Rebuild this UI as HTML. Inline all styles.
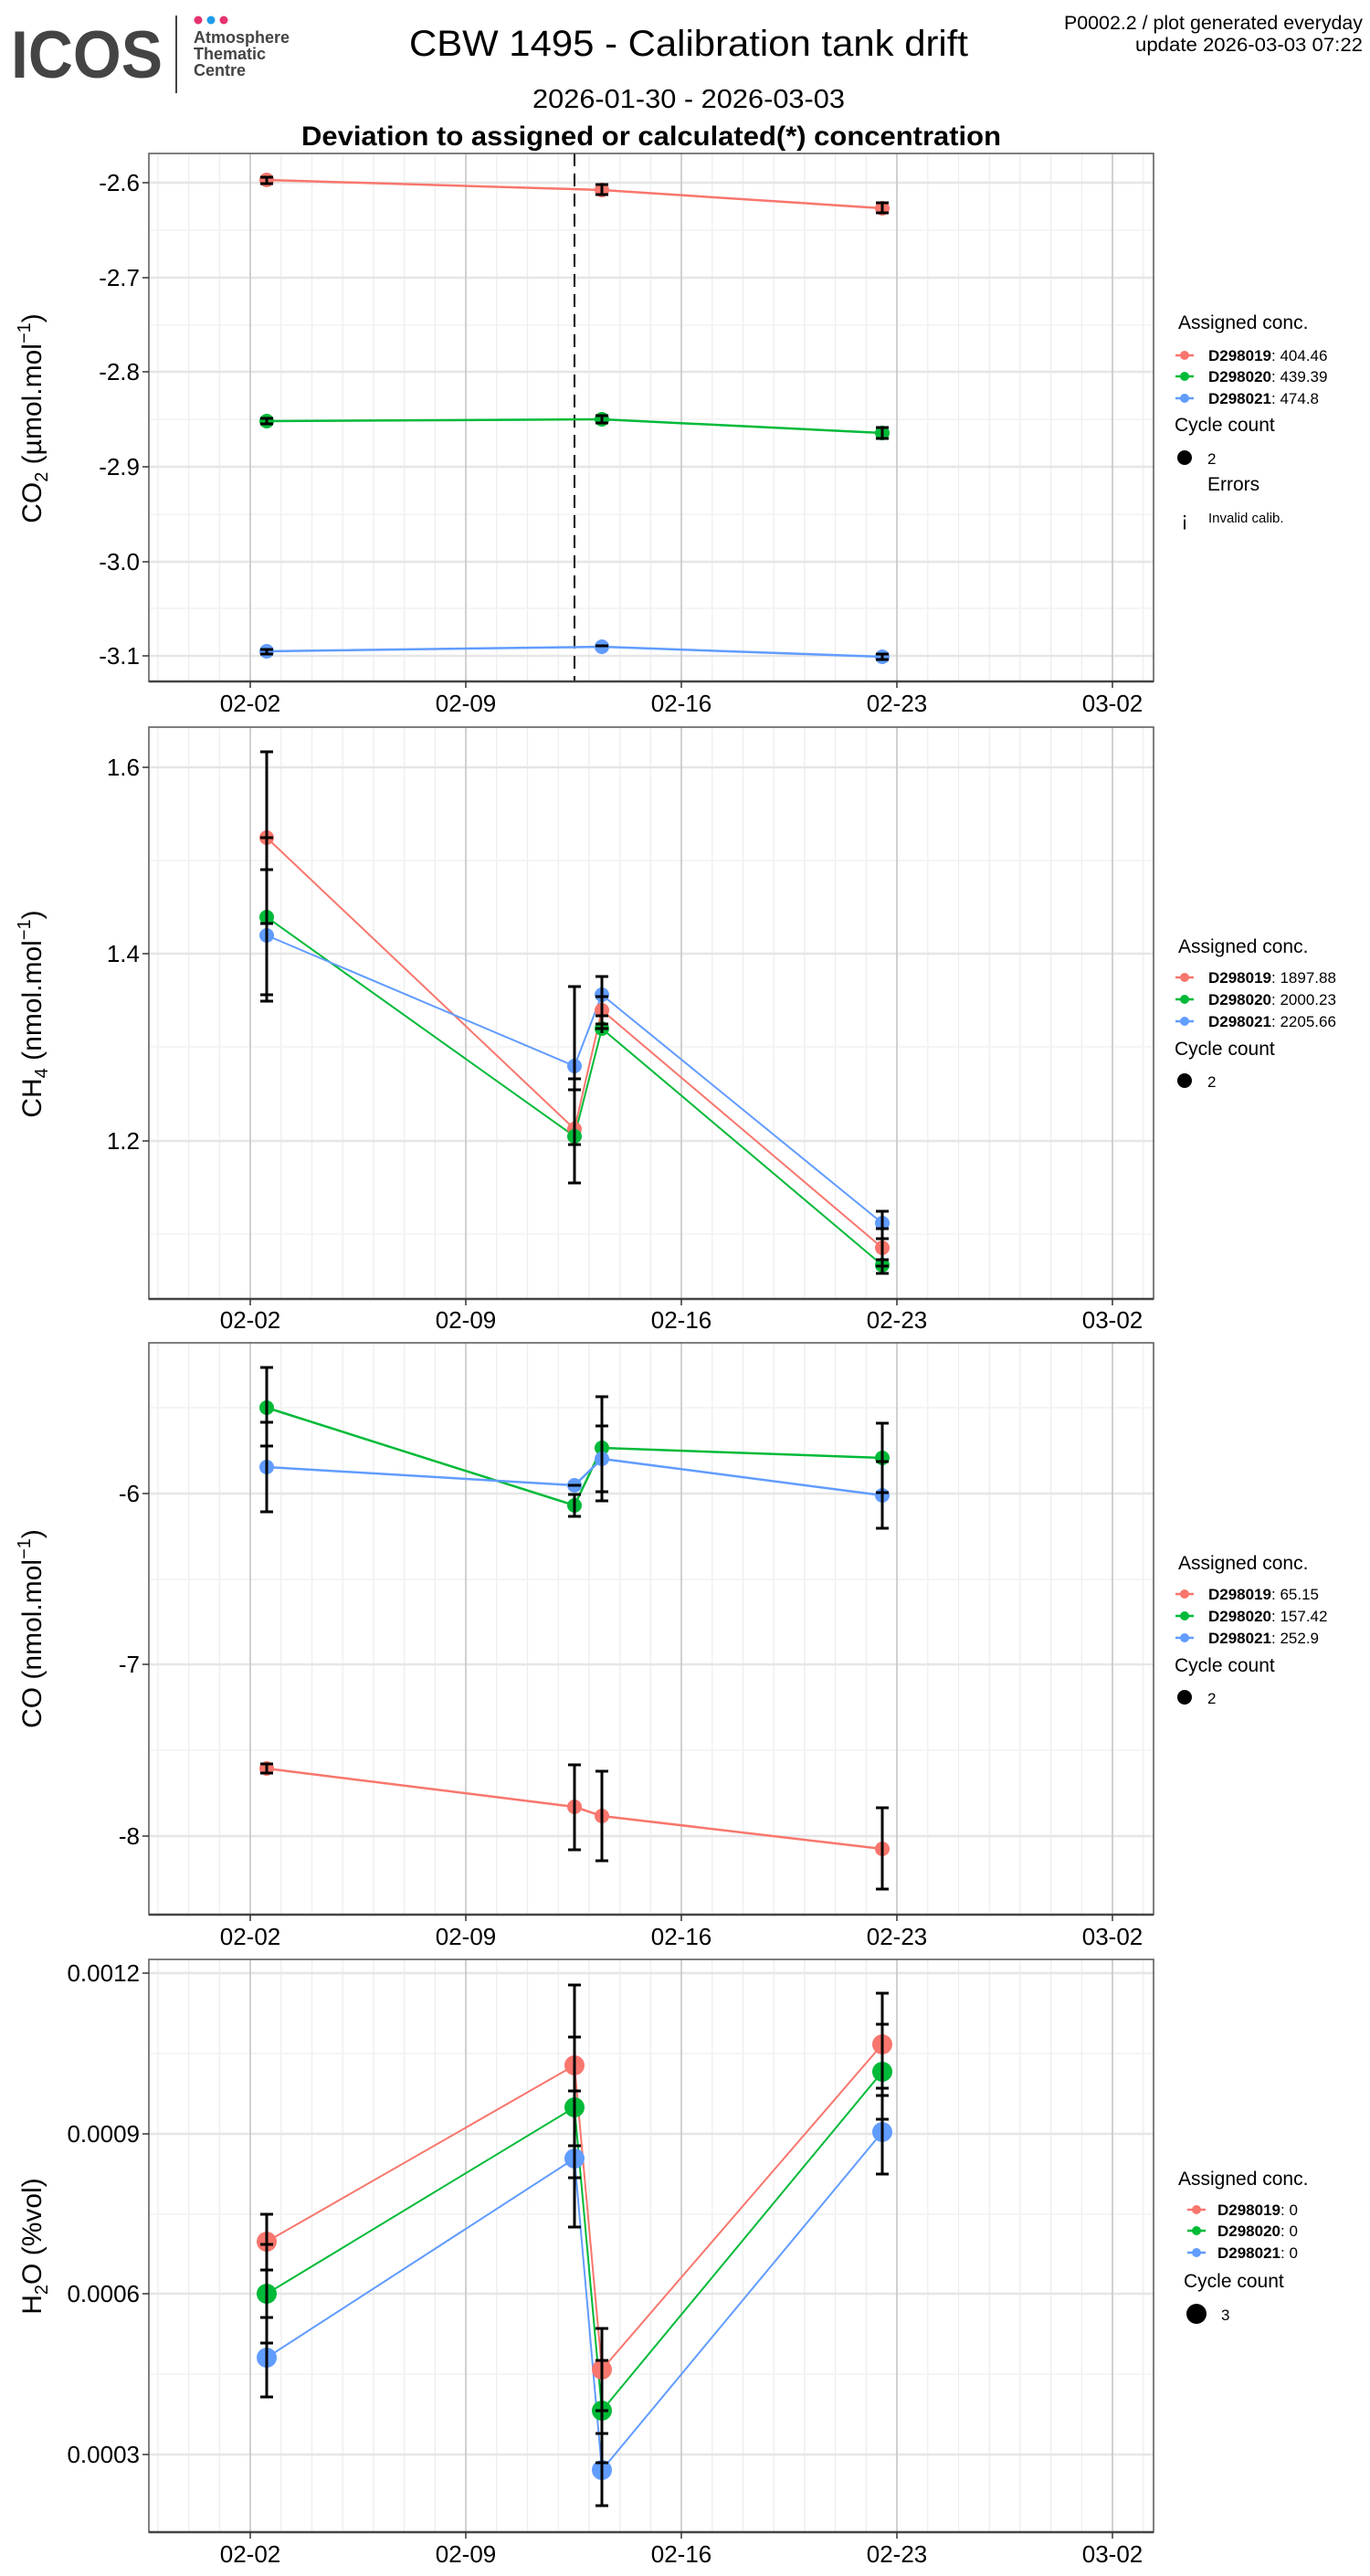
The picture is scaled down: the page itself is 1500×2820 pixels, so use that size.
<!DOCTYPE html>
<html><head><meta charset="utf-8"><style>
html,body{margin:0;padding:0;background:#fff;}
svg{display:block;}
text{font-family:"Liberation Sans",Arial,sans-serif;}
</style></head><body>
<svg width="1500" height="2820" viewBox="0 0 1500 2820" xmlns="http://www.w3.org/2000/svg">
<defs>
<pattern id="minx" patternUnits="userSpaceOnUse" x="273.5" y="0" width="33.714" height="10">
<rect x="0" y="0" width="1.2" height="10" fill="#ececec"/>
</pattern>
</defs>
<rect width="1500" height="2820" fill="#fff"/>

<!-- Logo -->
<text x="12" y="85" font-size="73" font-weight="bold" fill="#444" textLength="166" lengthAdjust="spacingAndGlyphs">ICOS</text>
<line x1="193" y1="17" x2="193" y2="102" stroke="#444" stroke-width="2"/>
<circle cx="217" cy="22" r="4.5" fill="#e6336f"/>
<circle cx="231" cy="22" r="4.5" fill="#1e9be9"/>
<circle cx="245" cy="22" r="4.5" fill="#e6336f"/>
<text x="212" y="47" font-size="18" font-weight="bold" fill="#444">Atmosphere</text>
<text x="212" y="65" font-size="18" font-weight="bold" fill="#444">Thematic</text>
<text x="212" y="83" font-size="18" font-weight="bold" fill="#444">Centre</text>

<!-- Titles -->
<text x="754" y="61" font-size="40" text-anchor="middle" textLength="612" lengthAdjust="spacingAndGlyphs">CBW 1495 - Calibration tank drift</text>
<text x="754" y="118" font-size="29" text-anchor="middle" textLength="342" lengthAdjust="spacingAndGlyphs">2026-01-30 - 2026-03-03</text>
<text x="713" y="159" font-size="30" font-weight="bold" text-anchor="middle" textLength="766" lengthAdjust="spacingAndGlyphs">Deviation to assigned or calculated(*) concentration</text>
<text x="1492" y="32" font-size="21" text-anchor="end" textLength="327" lengthAdjust="spacingAndGlyphs">P0002.2 / plot generated everyday</text>
<text x="1492" y="56" font-size="21" text-anchor="end" textLength="249" lengthAdjust="spacingAndGlyphs">update  2026-03-03 07:22</text>

<!-- ================= PANEL 1 CO2 ================= -->
<g>
<rect x="163" y="168" width="1100" height="578" fill="url(#minx)"/>
<g stroke="#f2f2f2" stroke-width="1.5">
<line x1="163" y1="252" x2="1263" y2="252"/><line x1="163" y1="356" x2="1263" y2="356"/><line x1="163" y1="459" x2="1263" y2="459"/><line x1="163" y1="563" x2="1263" y2="563"/><line x1="163" y1="666" x2="1263" y2="666"/>
</g>
<g stroke="#e6e6e6" stroke-width="2.5">
<line x1="163" y1="200" x2="1263" y2="200"/><line x1="163" y1="304" x2="1263" y2="304"/><line x1="163" y1="407" x2="1263" y2="407"/><line x1="163" y1="511" x2="1263" y2="511"/><line x1="163" y1="615" x2="1263" y2="615"/><line x1="163" y1="718" x2="1263" y2="718"/>
</g>
<g stroke="#cccccc" stroke-width="1.8">
<line x1="274" y1="168" x2="274" y2="746"/><line x1="510" y1="168" x2="510" y2="746"/><line x1="746" y1="168" x2="746" y2="746"/><line x1="982" y1="168" x2="982" y2="746"/><line x1="1218" y1="168" x2="1218" y2="746"/>
</g>
<line x1="629" y1="168" x2="629" y2="746" stroke="#000" stroke-width="2" stroke-dasharray="14,8"/>
<polyline points="292,197 659,208 966,228" fill="none" stroke="#F8766D" stroke-width="2.5"/>
<polyline points="292,461 659,459 966,474" fill="none" stroke="#00BA38" stroke-width="2.5"/>
<polyline points="292,713 659,708 966,719" fill="none" stroke="#619CFF" stroke-width="2.5"/>
<g fill="#F8766D"><circle cx="292" cy="197" r="8"/><circle cx="659" cy="208" r="8"/><circle cx="966" cy="228" r="8"/></g>
<g fill="#00BA38"><circle cx="292" cy="461" r="8"/><circle cx="659" cy="459" r="8"/><circle cx="966" cy="474" r="8"/></g>
<g fill="#619CFF"><circle cx="292" cy="713" r="8"/><circle cx="659" cy="708" r="8"/><circle cx="966" cy="719" r="8"/></g>
<g stroke="#000" stroke-width="3" fill="none">
<path d="M292 194V201M285 194H299M285 201H299"/>
<path d="M659 202V213M652 202H666M652 213H666"/>
<path d="M966 222V233M959 222H973M959 233H973"/>
<path d="M292 458V464M285 458H299M285 464H299"/>
<path d="M659 455V463M652 455H666M652 463H666"/>
<path d="M966 468V480M959 468H973M959 480H973"/>
<path d="M292 711V716M285 711H299M285 716H299"/>
<path d="M652 707H666"/>
<path d="M966 716V722M959 716H973M959 722H973"/>
</g>
<rect x="163" y="168" width="1100" height="578" fill="none" stroke="#555" stroke-width="1.5"/>
<line x1="163" y1="746" x2="1263" y2="746" stroke="#444" stroke-width="2.5"/>
<g stroke="#333" stroke-width="1.5">
<line x1="156" y1="200" x2="163" y2="200"/><line x1="156" y1="304" x2="163" y2="304"/><line x1="156" y1="407" x2="163" y2="407"/><line x1="156" y1="511" x2="163" y2="511"/><line x1="156" y1="615" x2="163" y2="615"/><line x1="156" y1="718" x2="163" y2="718"/>
<line x1="274" y1="746" x2="274" y2="753"/><line x1="510" y1="746" x2="510" y2="753"/><line x1="746" y1="746" x2="746" y2="753"/><line x1="982" y1="746" x2="982" y2="753"/><line x1="1218" y1="746" x2="1218" y2="753"/>
</g>
<g font-size="26" text-anchor="end">
<text x="153" y="209">-2.6</text><text x="153" y="313">-2.7</text><text x="153" y="416">-2.8</text><text x="153" y="520">-2.9</text><text x="153" y="624">-3.0</text><text x="153" y="727">-3.1</text>
</g>
<g font-size="26" text-anchor="middle">
<text x="274" y="779">02-02</text><text x="510" y="779">02-09</text><text x="746" y="779">02-16</text><text x="982" y="779">02-23</text><text x="1218" y="779">03-02</text>
</g>
<text transform="translate(45,458) rotate(-90)" font-size="30" text-anchor="middle">CO<tspan font-size="20" dy="7">2</tspan><tspan dy="-7"> (µmol.mol</tspan><tspan font-size="20" dy="-12">−1</tspan><tspan dy="12">)</tspan></text>
<!-- legend -->
<text x="1290" y="360" font-size="21">Assigned conc.</text>
<g stroke-width="2.5"><line x1="1287" y1="389" x2="1307" y2="389" stroke="#F8766D"/><line x1="1287" y1="412" x2="1307" y2="412" stroke="#00BA38"/><line x1="1287" y1="436" x2="1307" y2="436" stroke="#619CFF"/></g>
<circle cx="1297" cy="389" r="5" fill="#F8766D"/><circle cx="1297" cy="412" r="5" fill="#00BA38"/><circle cx="1297" cy="436" r="5" fill="#619CFF"/>
<g font-size="17"><text x="1323" y="395"><tspan font-weight="bold">D298019</tspan>: 404.46</text><text x="1323" y="418"><tspan font-weight="bold">D298020</tspan>: 439.39</text><text x="1323" y="442"><tspan font-weight="bold">D298021</tspan>: 474.8</text></g>
<text x="1286" y="472" font-size="21">Cycle count</text>
<circle cx="1297" cy="501" r="8" fill="#000"/>
<text x="1322" y="508" font-size="17">2</text>
<text x="1322" y="537" font-size="21">Errors</text>
<text x="1297" y="576" font-size="22" text-anchor="middle">¡</text>
<text x="1323" y="572" font-size="15">Invalid calib.</text>
</g>

<!-- ================= PANEL 2 CH4 ================= -->
<g>
<rect x="163" y="796" width="1100" height="626" fill="url(#minx)"/>
<g stroke="#f2f2f2" stroke-width="1.5">
<line x1="163" y1="942" x2="1263" y2="942"/><line x1="163" y1="1146" x2="1263" y2="1146"/><line x1="163" y1="1351" x2="1263" y2="1351"/>
</g>
<g stroke="#e6e6e6" stroke-width="2.5">
<line x1="163" y1="840" x2="1263" y2="840"/><line x1="163" y1="1044" x2="1263" y2="1044"/><line x1="163" y1="1249" x2="1263" y2="1249"/>
</g>
<g stroke="#cccccc" stroke-width="1.8">
<line x1="274" y1="796" x2="274" y2="1422"/><line x1="510" y1="796" x2="510" y2="1422"/><line x1="746" y1="796" x2="746" y2="1422"/><line x1="982" y1="796" x2="982" y2="1422"/><line x1="1218" y1="796" x2="1218" y2="1422"/>
</g>
<polyline points="292,917 629,1236 659,1106 966,1366" fill="none" stroke="#F8766D" stroke-width="2"/>
<polyline points="292,1004 629,1244 659,1126 966,1385" fill="none" stroke="#00BA38" stroke-width="2"/>
<polyline points="292,1024 629,1167 659,1089 966,1339" fill="none" stroke="#619CFF" stroke-width="2"/>
<g fill="#F8766D"><circle cx="292" cy="917" r="8"/><circle cx="629" cy="1236" r="8"/><circle cx="659" cy="1106" r="8"/><circle cx="966" cy="1366" r="8"/></g>
<g fill="#00BA38"><circle cx="292" cy="1004" r="8"/><circle cx="629" cy="1244" r="8"/><circle cx="659" cy="1126" r="8"/><circle cx="966" cy="1385" r="8"/></g>
<g fill="#619CFF"><circle cx="292" cy="1024" r="8"/><circle cx="629" cy="1167" r="8"/><circle cx="659" cy="1089" r="8"/><circle cx="966" cy="1339" r="8"/></g>
<g stroke="#000" stroke-width="3" fill="none">
<path d="M292 823V1096M285 823H299M285 917H299M285 952H299M285 1011H299M285 1089H299M285 1096H299"/>
<path d="M629 1080V1295M622 1080H636M622 1181H636M622 1193H636M622 1253H636M622 1295H636"/>
<path d="M659 1069V1131M652 1069H666M652 1091H666M652 1112H666M652 1121H666M652 1126H666"/>
<path d="M966 1326V1394M959 1326H973M959 1345H973M959 1356H973M959 1379H973M959 1386H973M959 1394H973"/>
</g>
<rect x="163" y="796" width="1100" height="626" fill="none" stroke="#555" stroke-width="1.5"/>
<line x1="163" y1="1422" x2="1263" y2="1422" stroke="#444" stroke-width="2.5"/>
<g stroke="#333" stroke-width="1.5">
<line x1="156" y1="840" x2="163" y2="840"/><line x1="156" y1="1044" x2="163" y2="1044"/><line x1="156" y1="1249" x2="163" y2="1249"/>
<line x1="274" y1="1422" x2="274" y2="1429"/><line x1="510" y1="1422" x2="510" y2="1429"/><line x1="746" y1="1422" x2="746" y2="1429"/><line x1="982" y1="1422" x2="982" y2="1429"/><line x1="1218" y1="1422" x2="1218" y2="1429"/>
</g>
<g font-size="26" text-anchor="end">
<text x="153" y="849">1.6</text><text x="153" y="1053">1.4</text><text x="153" y="1258">1.2</text>
</g>
<g font-size="26" text-anchor="middle">
<text x="274" y="1454">02-02</text><text x="510" y="1454">02-09</text><text x="746" y="1454">02-16</text><text x="982" y="1454">02-23</text><text x="1218" y="1454">03-02</text>
</g>
<text transform="translate(45,1110) rotate(-90)" font-size="30" text-anchor="middle">CH<tspan font-size="20" dy="7">4</tspan><tspan dy="-7"> (nmol.mol</tspan><tspan font-size="20" dy="-12">−1</tspan><tspan dy="12">)</tspan></text>
<text x="1290" y="1043" font-size="21">Assigned conc.</text>
<g stroke-width="2.5"><line x1="1287" y1="1070" x2="1307" y2="1070" stroke="#F8766D"/><line x1="1287" y1="1094" x2="1307" y2="1094" stroke="#00BA38"/><line x1="1287" y1="1118" x2="1307" y2="1118" stroke="#619CFF"/></g>
<circle cx="1297" cy="1070" r="5" fill="#F8766D"/><circle cx="1297" cy="1094" r="5" fill="#00BA38"/><circle cx="1297" cy="1118" r="5" fill="#619CFF"/>
<g font-size="17"><text x="1323" y="1076"><tspan font-weight="bold">D298019</tspan>: 1897.88</text><text x="1323" y="1100"><tspan font-weight="bold">D298020</tspan>: 2000.23</text><text x="1323" y="1124"><tspan font-weight="bold">D298021</tspan>: 2205.66</text></g>
<text x="1286" y="1155" font-size="21">Cycle count</text>
<circle cx="1297" cy="1183" r="8" fill="#000"/>
<text x="1322" y="1190" font-size="17">2</text>
</g>

<!-- ================= PANEL 3 CO ================= -->
<g>
<rect x="163" y="1470" width="1100" height="626" fill="url(#minx)"/>
<g stroke="#f2f2f2" stroke-width="1.5">
<line x1="163" y1="1541" x2="1263" y2="1541"/><line x1="163" y1="1729" x2="1263" y2="1729"/><line x1="163" y1="1916" x2="1263" y2="1916"/>
</g>
<g stroke="#e6e6e6" stroke-width="2.5">
<line x1="163" y1="1635" x2="1263" y2="1635"/><line x1="163" y1="1822" x2="1263" y2="1822"/><line x1="163" y1="2010" x2="1263" y2="2010"/>
</g>
<g stroke="#cccccc" stroke-width="1.8">
<line x1="274" y1="1470" x2="274" y2="2096"/><line x1="510" y1="1470" x2="510" y2="2096"/><line x1="746" y1="1470" x2="746" y2="2096"/><line x1="982" y1="1470" x2="982" y2="2096"/><line x1="1218" y1="1470" x2="1218" y2="2096"/>
</g>
<polyline points="292,1936 629,1978 659,1988 966,2024" fill="none" stroke="#F8766D" stroke-width="2.5"/>
<polyline points="292,1541 629,1648 659,1585 966,1596" fill="none" stroke="#00BA38" stroke-width="2.5"/>
<polyline points="292,1606 629,1626 659,1597 966,1637" fill="none" stroke="#619CFF" stroke-width="2.5"/>
<g fill="#F8766D"><circle cx="292" cy="1936" r="8"/><circle cx="629" cy="1978" r="8"/><circle cx="659" cy="1988" r="8"/><circle cx="966" cy="2024" r="8"/></g>
<g fill="#00BA38"><circle cx="292" cy="1541" r="8"/><circle cx="629" cy="1648" r="8"/><circle cx="659" cy="1585" r="8"/><circle cx="966" cy="1596" r="8"/></g>
<g fill="#619CFF"><circle cx="292" cy="1606" r="8"/><circle cx="629" cy="1626" r="8"/><circle cx="659" cy="1597" r="8"/><circle cx="966" cy="1637" r="8"/></g>
<g stroke="#000" stroke-width="3" fill="none">
<path d="M292 1497V1655M285 1497H299M285 1557H299M285 1583H299M285 1655H299"/>
<path d="M629 1636V1660M622 1636H636M622 1660H636M622 1626H636"/>
<path d="M659 1529V1643M652 1529H666M652 1561H666M652 1633H666M652 1643H666"/>
<path d="M966 1558V1673M959 1558H973M959 1600H973M959 1634H973M959 1673H973"/>
<path d="M292 1931V1941M285 1931H299M285 1941H299"/>
<path d="M629 1932V2025M622 1932H636M622 2025H636"/>
<path d="M659 1939V2037M652 1939H666M652 2037H666"/>
<path d="M966 1979V2068M959 1979H973M959 2068H973"/>
</g>
<rect x="163" y="1470" width="1100" height="626" fill="none" stroke="#555" stroke-width="1.5"/>
<line x1="163" y1="2096" x2="1263" y2="2096" stroke="#444" stroke-width="2.5"/>
<g stroke="#333" stroke-width="1.5">
<line x1="156" y1="1635" x2="163" y2="1635"/><line x1="156" y1="1822" x2="163" y2="1822"/><line x1="156" y1="2010" x2="163" y2="2010"/>
<line x1="274" y1="2096" x2="274" y2="2103"/><line x1="510" y1="2096" x2="510" y2="2103"/><line x1="746" y1="2096" x2="746" y2="2103"/><line x1="982" y1="2096" x2="982" y2="2103"/><line x1="1218" y1="2096" x2="1218" y2="2103"/>
</g>
<g font-size="26" text-anchor="end">
<text x="153" y="1644">-6</text><text x="153" y="1831">-7</text><text x="153" y="2019">-8</text>
</g>
<g font-size="26" text-anchor="middle">
<text x="274" y="2129">02-02</text><text x="510" y="2129">02-09</text><text x="746" y="2129">02-16</text><text x="982" y="2129">02-23</text><text x="1218" y="2129">03-02</text>
</g>
<text transform="translate(45,1783) rotate(-90)" font-size="30" text-anchor="middle">CO (nmol.mol<tspan font-size="20" dy="-12">−1</tspan><tspan dy="12">)</tspan></text>
<text x="1290" y="1718" font-size="21">Assigned conc.</text>
<g stroke-width="2.5"><line x1="1287" y1="1745" x2="1307" y2="1745" stroke="#F8766D"/><line x1="1287" y1="1769" x2="1307" y2="1769" stroke="#00BA38"/><line x1="1287" y1="1793" x2="1307" y2="1793" stroke="#619CFF"/></g>
<circle cx="1297" cy="1745" r="5" fill="#F8766D"/><circle cx="1297" cy="1769" r="5" fill="#00BA38"/><circle cx="1297" cy="1793" r="5" fill="#619CFF"/>
<g font-size="17"><text x="1323" y="1751"><tspan font-weight="bold">D298019</tspan>: 65.15</text><text x="1323" y="1775"><tspan font-weight="bold">D298020</tspan>: 157.42</text><text x="1323" y="1799"><tspan font-weight="bold">D298021</tspan>: 252.9</text></g>
<text x="1286" y="1830" font-size="21">Cycle count</text>
<circle cx="1297" cy="1858" r="8" fill="#000"/>
<text x="1322" y="1865" font-size="17">2</text>
</g>

<!-- ================= PANEL 4 H2O ================= -->
<g>
<rect x="163" y="2145" width="1100" height="627" fill="url(#minx)"/>
<g stroke="#f2f2f2" stroke-width="1.5">
<line x1="163" y1="2248" x2="1263" y2="2248"/><line x1="163" y1="2424" x2="1263" y2="2424"/><line x1="163" y1="2599" x2="1263" y2="2599"/>
</g>
<g stroke="#e6e6e6" stroke-width="2.5">
<line x1="163" y1="2160" x2="1263" y2="2160"/><line x1="163" y1="2336" x2="1263" y2="2336"/><line x1="163" y1="2511" x2="1263" y2="2511"/><line x1="163" y1="2687" x2="1263" y2="2687"/>
</g>
<g stroke="#cccccc" stroke-width="1.8">
<line x1="274" y1="2145" x2="274" y2="2772"/><line x1="510" y1="2145" x2="510" y2="2772"/><line x1="746" y1="2145" x2="746" y2="2772"/><line x1="982" y1="2145" x2="982" y2="2772"/><line x1="1218" y1="2145" x2="1218" y2="2772"/>
</g>
<polyline points="292,2454 629,2261 659,2594 966,2238" fill="none" stroke="#F8766D" stroke-width="2"/>
<polyline points="292,2511 629,2307 659,2639 966,2268" fill="none" stroke="#00BA38" stroke-width="2"/>
<polyline points="292,2581 629,2363 659,2704 966,2334" fill="none" stroke="#619CFF" stroke-width="2"/>
<g fill="#F8766D"><circle cx="292" cy="2454" r="11"/><circle cx="629" cy="2261" r="11"/><circle cx="659" cy="2594" r="11"/><circle cx="966" cy="2238" r="11"/></g>
<g fill="#00BA38"><circle cx="292" cy="2511" r="11"/><circle cx="629" cy="2307" r="11"/><circle cx="659" cy="2639" r="11"/><circle cx="966" cy="2268" r="11"/></g>
<g fill="#619CFF"><circle cx="292" cy="2581" r="11"/><circle cx="629" cy="2363" r="11"/><circle cx="659" cy="2704" r="11"/><circle cx="966" cy="2334" r="11"/></g>
<g stroke="#000" stroke-width="3" fill="none">
<path d="M292 2424V2624M285 2424H299M285 2457H299M285 2485H299M285 2537H299M285 2565H299M285 2624H299"/>
<path d="M629 2173V2438M622 2173H636M622 2230H636M622 2289H636M622 2349H636M622 2384H636M622 2438H636"/>
<path d="M659 2549V2743M652 2549H666M652 2584H666M652 2639H666M652 2664H666M652 2696H666M652 2743H666"/>
<path d="M966 2182V2380M959 2182H973M959 2216H973M959 2286H973M959 2294H973M959 2320H973M959 2380H973"/>
</g>
<rect x="163" y="2145" width="1100" height="627" fill="none" stroke="#555" stroke-width="1.5"/>
<line x1="163" y1="2772" x2="1263" y2="2772" stroke="#444" stroke-width="2.5"/>
<g stroke="#333" stroke-width="1.5">
<line x1="156" y1="2160" x2="163" y2="2160"/><line x1="156" y1="2336" x2="163" y2="2336"/><line x1="156" y1="2511" x2="163" y2="2511"/><line x1="156" y1="2687" x2="163" y2="2687"/>
<line x1="274" y1="2772" x2="274" y2="2779"/><line x1="510" y1="2772" x2="510" y2="2779"/><line x1="746" y1="2772" x2="746" y2="2779"/><line x1="982" y1="2772" x2="982" y2="2779"/><line x1="1218" y1="2772" x2="1218" y2="2779"/>
</g>
<g font-size="26" text-anchor="end">
<text x="153" y="2169">0.0012</text><text x="153" y="2345">0.0009</text><text x="153" y="2520">0.0006</text><text x="153" y="2696">0.0003</text>
</g>
<g font-size="26" text-anchor="middle">
<text x="274" y="2805">02-02</text><text x="510" y="2805">02-09</text><text x="746" y="2805">02-16</text><text x="982" y="2805">02-23</text><text x="1218" y="2805">03-02</text>
</g>
<text transform="translate(45,2459) rotate(-90)" font-size="30" text-anchor="middle">H<tspan font-size="20" dy="7">2</tspan><tspan dy="-7">O (%vol)</tspan></text>
<text x="1290" y="2392" font-size="21">Assigned conc.</text>
<g stroke-width="2.5"><line x1="1300" y1="2419" x2="1320" y2="2419" stroke="#F8766D"/><line x1="1300" y1="2442" x2="1320" y2="2442" stroke="#00BA38"/><line x1="1300" y1="2466" x2="1320" y2="2466" stroke="#619CFF"/></g>
<circle cx="1310" cy="2419" r="5" fill="#F8766D"/><circle cx="1310" cy="2442" r="5" fill="#00BA38"/><circle cx="1310" cy="2466" r="5" fill="#619CFF"/>
<g font-size="17"><text x="1333" y="2425"><tspan font-weight="bold">D298019</tspan>: 0</text><text x="1333" y="2448"><tspan font-weight="bold">D298020</tspan>: 0</text><text x="1333" y="2472"><tspan font-weight="bold">D298021</tspan>: 0</text></g>
<text x="1296" y="2504" font-size="21">Cycle count</text>
<circle cx="1310" cy="2533" r="11" fill="#000"/>
<text x="1337" y="2540" font-size="17">3</text>
</g>
</svg>
</body></html>
